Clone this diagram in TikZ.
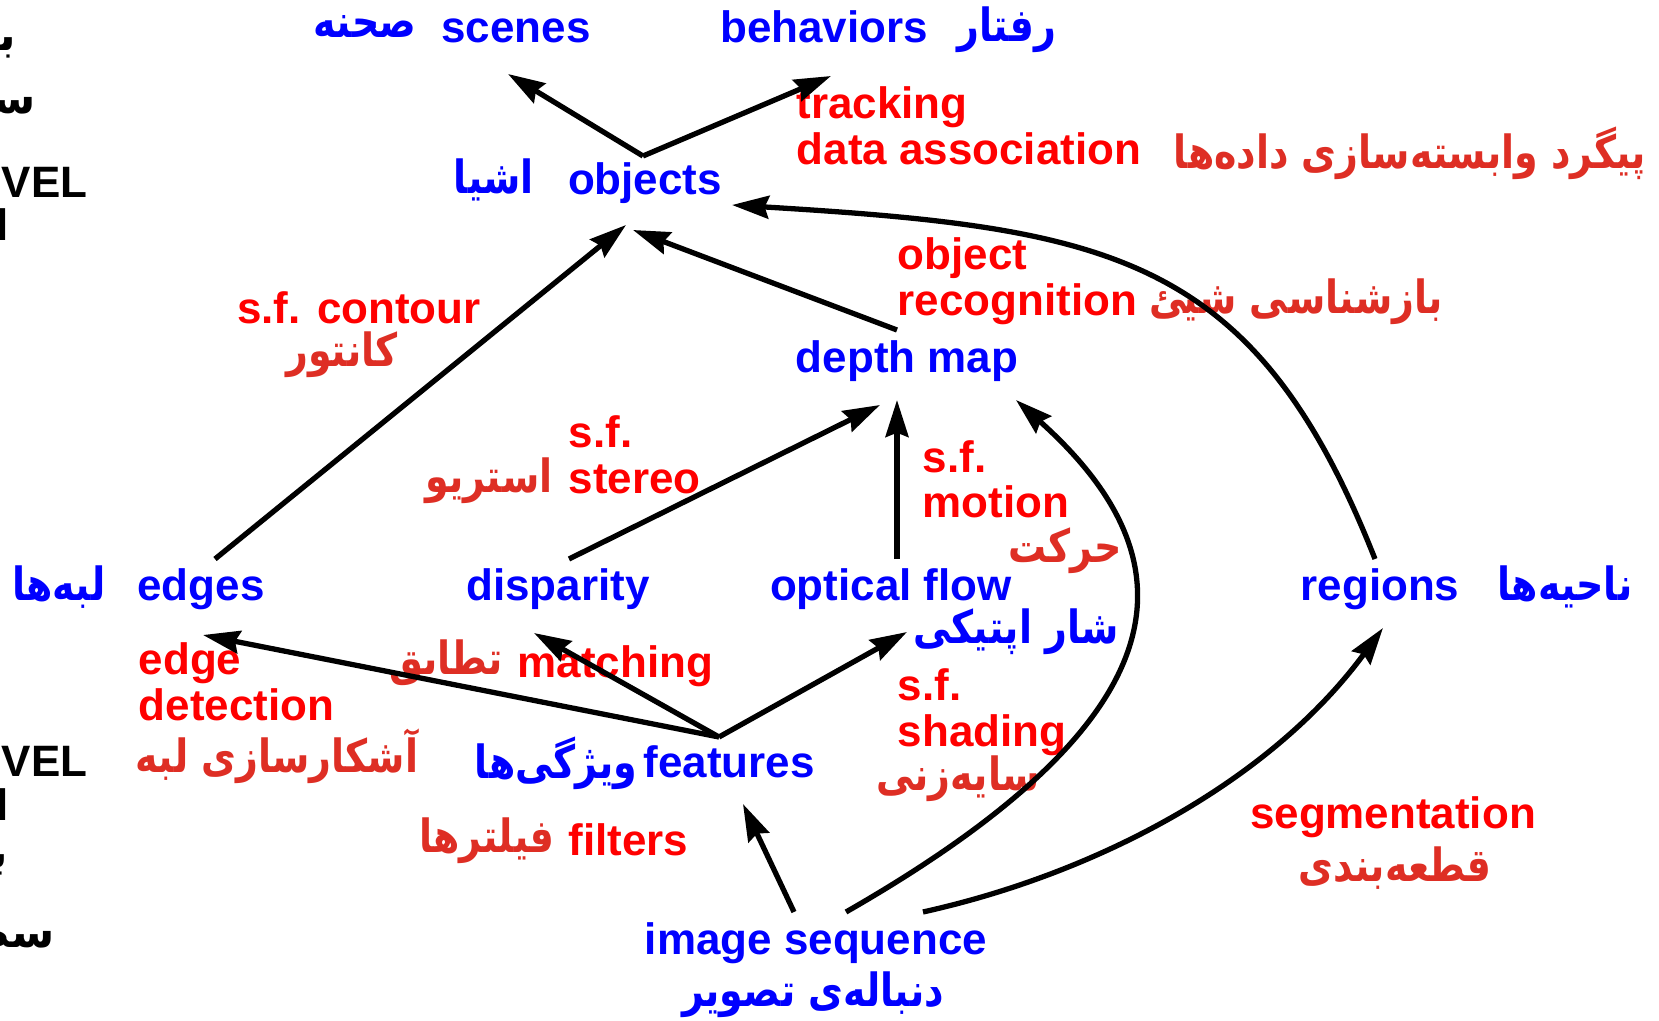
\documentclass[tikz,border=0pt]{standalone}
\usepackage{fontspec}
\setmainfont{Liberation Sans}
\newfontfamily\fa[Script=Arabic,FakeStretch=0.83]{DejaVu Sans}
\newfontfamily\faw[Script=Arabic]{DejaVu Sans}
\TeXXeTstate=1
\usetikzlibrary{arrows.meta}
\definecolor{eblue}{RGB}{0,0,255}
\definecolor{ered}{RGB}{255,0,0}
\definecolor{fred}{RGB}{222,46,36}
\begin{document}
\begin{tikzpicture}[x=0.01cm,y=-0.01cm,
  en/.style={font=\bfseries\fontsize{12.5}{12.8}\selectfont, inner sep=0pt},
  blu/.style={en, text=eblue, anchor=base},
  rd/.style={en, text=ered, align=left, anchor=base west},
  blk/.style={en, text=black},
  fab/.style={font=\fa\bfseries\fontsize{13}{14}\selectfont, text=eblue, inner sep=0pt},
  far/.style={font=\fa\bfseries\fontsize{13}{14}\selectfont, text=fred, inner sep=0pt},
  fak/.style={font=\faw\bfseries\fontsize{12.5}{14}\selectfont, text=black, inner sep=0pt},
  conn/.style={line width=1.5pt, -{Stealth[length=10.5pt,width=6.5pt,inset=1.2pt]}}]
\useasboundingbox (0,0) rectangle (1659,1021);

% clipped side labels
\node[blk, anchor=base east] (hvel) at (88,197) {VEL};
\node[blk, anchor=base west] (hl) at (-4,241) {l};
\node[fak, anchor=east] (hb) at (17,48) {\beginR بـ\endR};
\node[fak, anchor=east] (hs) at (36,106) {\beginR سـ\endR};
\node[blk, anchor=base east] (lvel) at (88,776) {VEL};
\node[blk, anchor=base west] (ll) at (-4,820) {l};
\node[fak, anchor=east] (lb) at (9,865) {\beginR بـ\endR};
\node[fak, anchor=east] (ls) at (55,931) {\beginR سطـ\endR};

% blue English
\node[blu] (scenes) at (516,42) {scenes};
\node[blu] (behaviors) at (824,42) {behaviors};
\node[blu] (objects) at (645,195) {objects};
\node[blu] (depth) at (907,372) {depth map};
\node[blu] (edges) at (201,600) {edges};
\node[blu] (disparity) at (558,600) {disparity};
\node[blu] (oflow) at (891,600) {optical flow};
\node[blu] (regions) at (1380,600) {regions};
\node[blu] (features) at (729,777) {features};
\node[blu] (imseq) at (816,954) {image sequence};

% blue Persian
\node[fab] (scenesfa) at (365,27) {\beginR صحنه\endR};
\node[fab] (behfa) at (1007,30) {\beginR رفتار\endR};
\node[fab] (objfa) at (494,180) {\beginR اشیا\endR};
\node[fab] (edgfa) at (59,587) {\beginR لبه^^^^200cها\endR};
\node[fab] (oflfa) at (1016,632) {\beginR شار اپتیکی\endR};
\node[fab] (regfa) at (1565,587) {\beginR ناحیه^^^^200cها\endR};
\node[fab] (feafa) at (556,763) {\beginR ویژگی^^^^200cها\endR};
\node[fab] (imsfa) at (813,995) {\beginR دنباله^^^^200cی تصویر\endR};

% red English (base = last line)
\node[rd] (track) at (796,164) {tracking\\data association};
\node[rd] (objrec) at (897,315) {object\\recognition};
\node[rd, anchor=base] (contour) at (359,323) {s.f. contour};
\node[rd] (stereo) at (568,493) {s.f.\\stereo};
\node[rd] (motion) at (922,518) {s.f.\\motion};
\node[rd] (edet) at (138,720) {edge\\detection};
\node[rd] (match) at (517,677) {matching};
\node[rd] (shading) at (897,746) {s.f.\\shading};
\node[rd] (filters) at (568,855) {filters};
\node[rd, anchor=base] (segm) at (1393,828) {segmentation};

% red Persian
\node[far] (trackfa) at (1410,153) {\beginR پیگرد وابسته^^^^200cسازی داده^^^^200cها\endR};
\node[far] (objrecfa) at (1296,302) {\beginR بازشناسی شیئ\endR};
\node[far] (contfa) at (342,355) {\beginR کانتور\endR};
\node[far] (sterfa) at (489,481) {\beginR استریو\endR};
\node[far] (motfa) at (1065,551) {\beginR حرکت\endR};
\node[far] (edetfa) at (277,756) {\beginR آشکارسازی لبه\endR};
\node[far] (matchfa) at (446,663) {\beginR تطابق\endR};
\node[far] (shadfa) at (958,779) {\beginR سایه^^^^200cزنی\endR};
\node[far] (filtfa) at (487,841) {\beginR فیلترها\endR};
\node[far] (segmfa) at (1395,868) {\beginR قطعه^^^^200cبندی\endR};

% connector end points
\coordinate (ov) at (643,156);
\coordinate (scin) at (508,74);
\coordinate (bein) at (831,76);
\coordinate (edout) at (215,559);
\coordinate (objin1) at (626,225);
\coordinate (dmout) at (897,330);
\coordinate (objin2) at (633,230);
\coordinate (rgout) at (1375,559);
\coordinate (objin3) at (732,205);
\coordinate (isout1) at (794,912);
\coordinate (ftin) at (743,804);
\coordinate (isout2) at (846,912);
\coordinate (dmin3) at (1016,400);
\coordinate (isout3) at (923,912);
\coordinate (rgin) at (1383,628);
\coordinate (dpout) at (569,559);
\coordinate (dmin1) at (880,405);
\coordinate (ofout) at (897,559);
\coordinate (dmin2) at (897,400);
\coordinate (fv) at (719,737);
\coordinate (edin) at (203,635);
\coordinate (dpin) at (534,633);
\coordinate (ofin) at (907,632);

% connectors
\draw[conn] (ov) -- (scin);
\draw[conn] (ov) -- (bein);
\draw[conn] (edout) -- (objin1);
\draw[conn] (dmout) -- (objin2);
\draw[conn] (rgout) .. controls (1255,255) and (1112,228) .. (objin3);
\draw[conn] (dpout) -- (dmin1);
\draw[conn] (ofout) -- (dmin2);
\draw[conn] (fv) -- (edin);
\draw[conn] (fv) -- (dpin);
\draw[conn] (fv) -- (ofin);
\draw[conn] (isout1) -- (ftin);
\draw[conn] (isout2) .. controls (1190,715) and (1195,560) .. (dmin3);
\draw[conn] (isout3) .. controls (1103,872) and (1273,778) .. (rgin);
\end{tikzpicture}
\end{document}
